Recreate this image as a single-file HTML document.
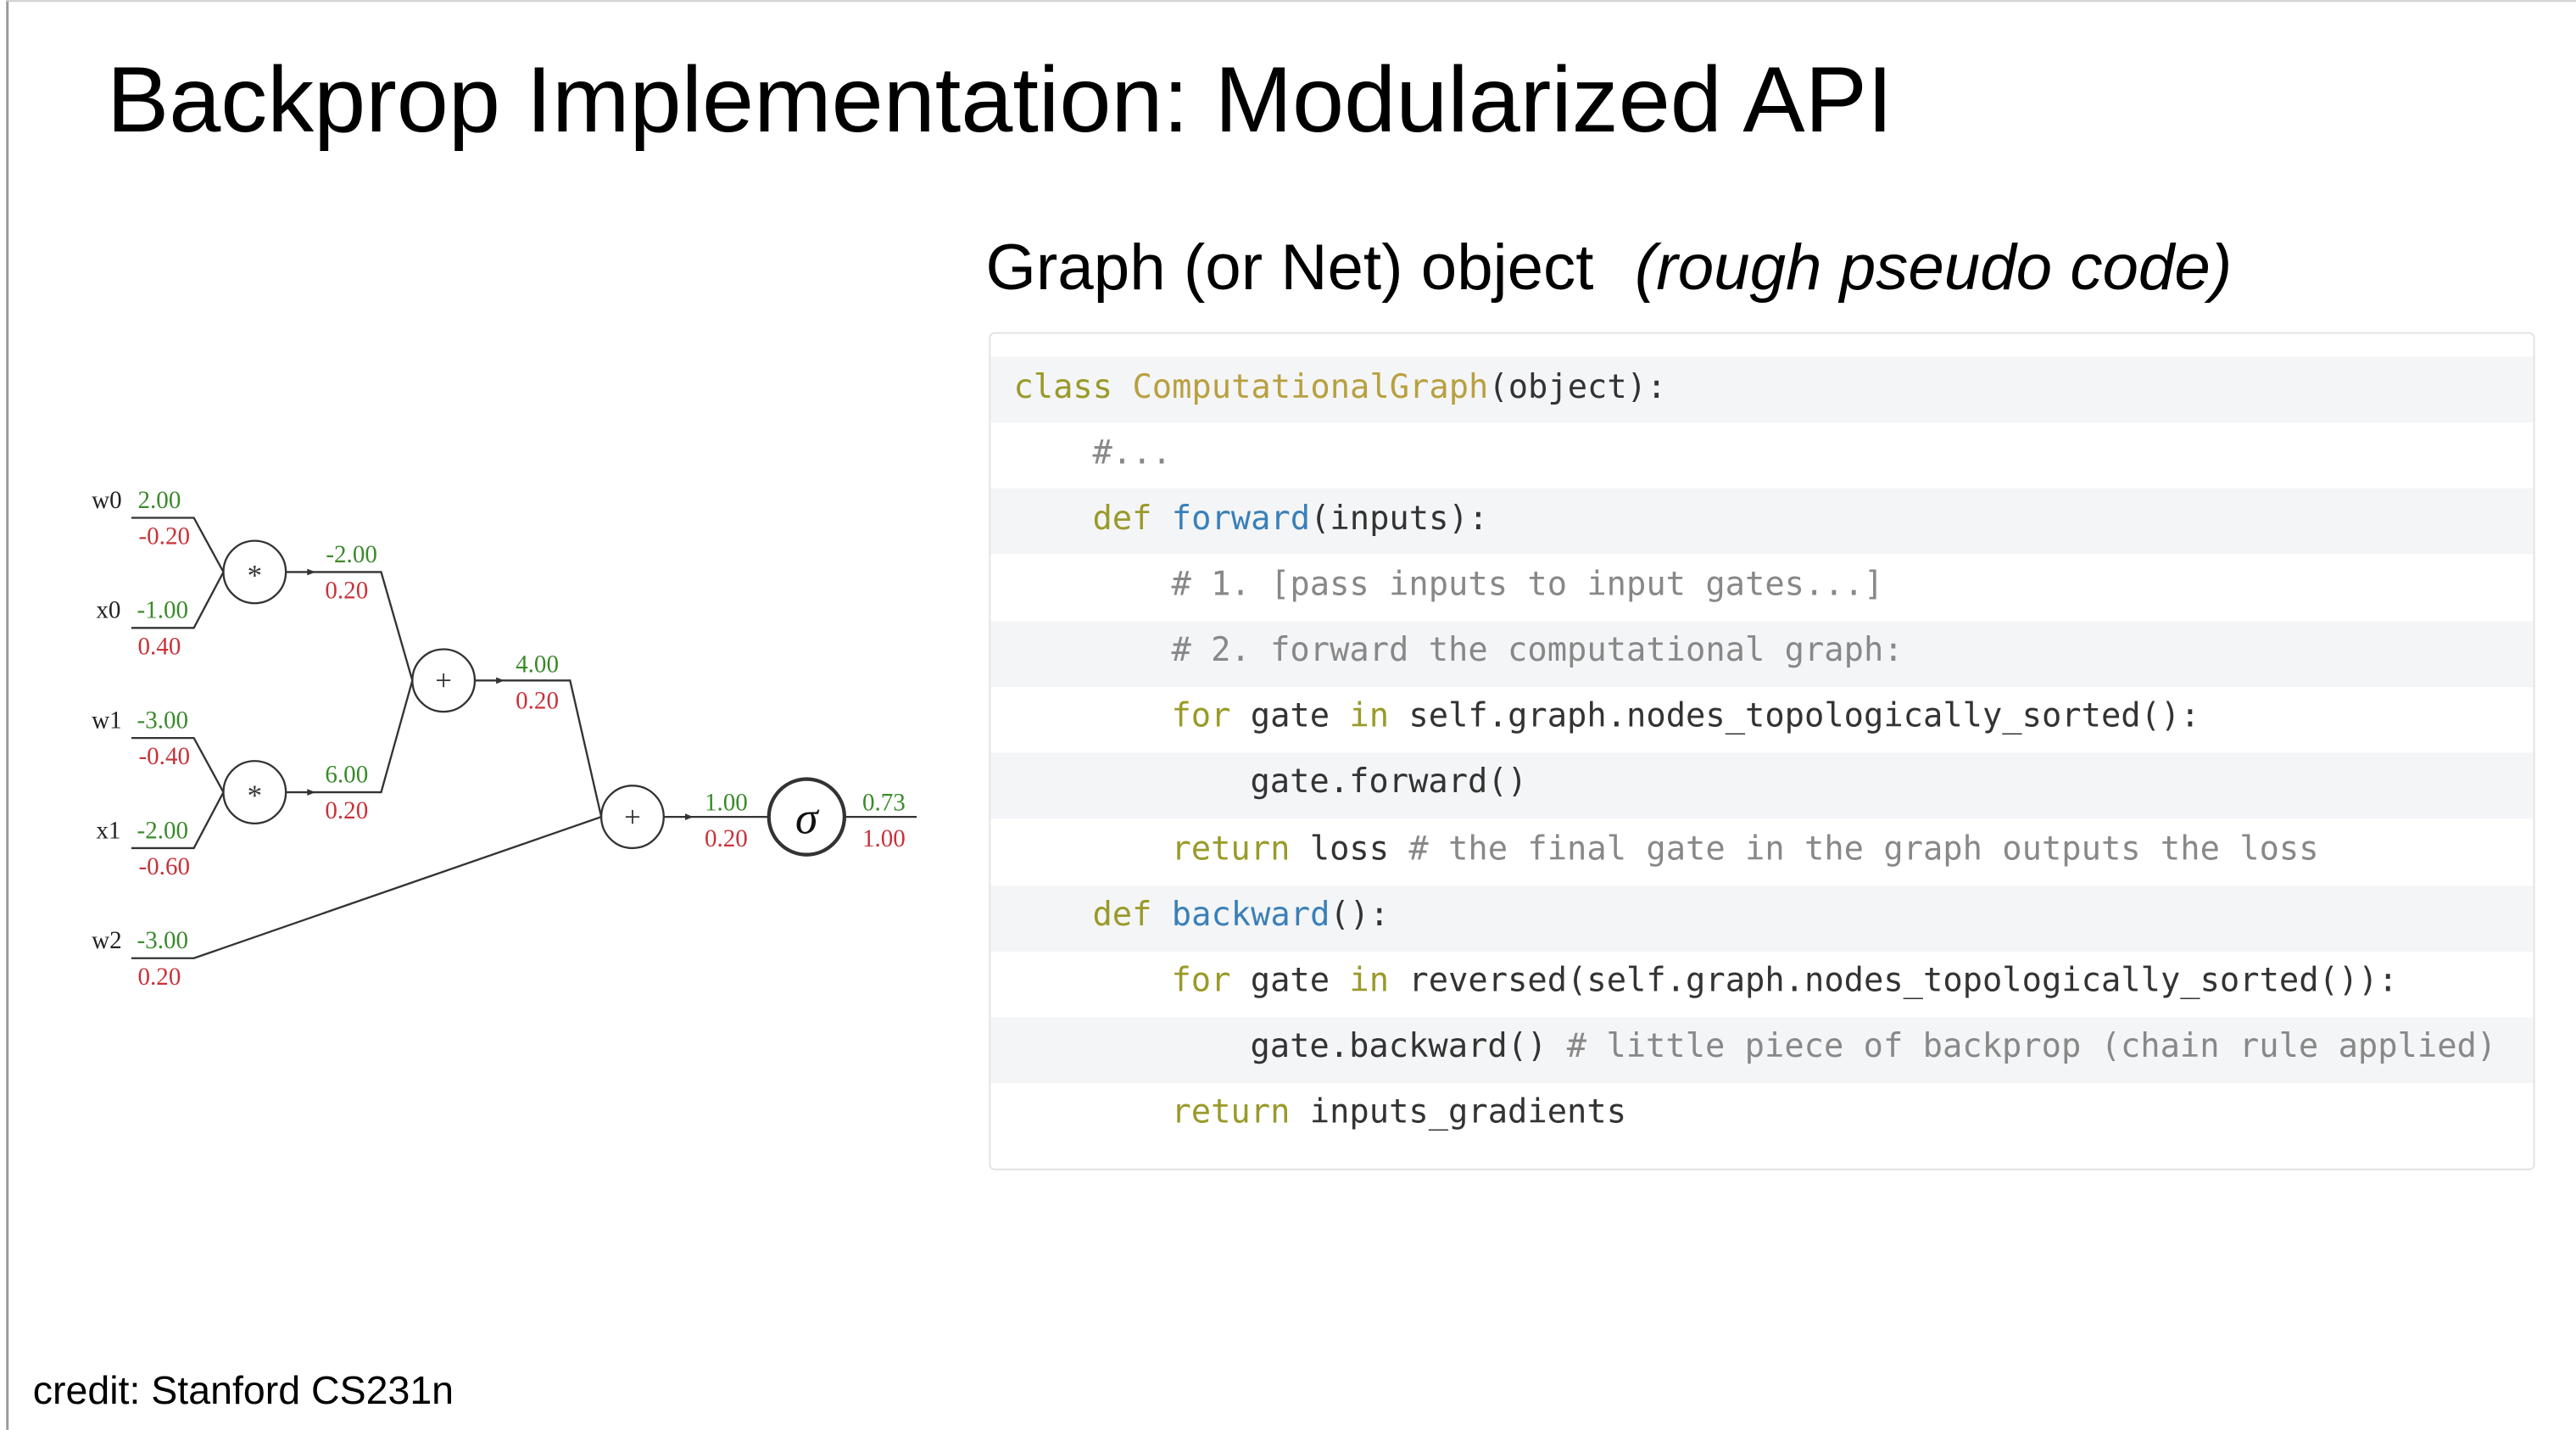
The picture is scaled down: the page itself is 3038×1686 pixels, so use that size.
<!DOCTYPE html>
<html><head><meta charset="utf-8"><style>
html,body{margin:0;padding:0;background:#fff;}
svg{display:block;}
</style></head><body>
<svg width="3038" height="1686" viewBox="0 0 1568 870" xmlns="http://www.w3.org/2000/svg">
<rect width="1568" height="870" fill="#fff"/>
<line x1="4.5" y1="0" x2="4.5" y2="870" stroke="#9a9a9a" stroke-width="1.5"/>
<line x1="4" y1="0.5" x2="1568" y2="0.5" stroke="#ccc" stroke-width="1"/>
<text x="65" y="80" font-family="Liberation Sans, sans-serif" font-size="56.7" fill="#000">Backprop Implementation: Modularized API</text>
<text x="600" y="176" font-family="Liberation Sans, sans-serif" font-size="39.4" fill="#000">Graph (or Net) object<tspan dx="25" font-style="italic">(rough pseudo code)</tspan></text>
<text x="20" y="854" font-family="Liberation Sans, sans-serif" font-size="24" fill="#000">credit: Stanford CS231n</text>

<!-- code box -->
<rect x="602.5" y="202.5" width="940" height="509" rx="3" fill="#fff" stroke="#e2e2e2"/>
<g fill="#f4f5f7">
<rect x="603" y="217" width="939" height="40"/>
<rect x="603" y="297" width="939" height="40"/>
<rect x="603" y="378" width="939" height="40"/>
<rect x="603" y="458" width="939" height="40"/>
<rect x="603" y="539" width="939" height="40"/>
<rect x="603" y="619" width="939" height="40"/>
</g>
<g font-family="DejaVu Sans Mono, Liberation Mono, monospace" font-size="20" fill="#333" xml:space="preserve">
<text x="617" y="242"><tspan fill="#9a9a2a">class</tspan> <tspan fill="#b8a040">ComputationalGraph</tspan>(object):</text>
<text x="665" y="282" fill="#888">#...</text>
<text x="665" y="322"><tspan fill="#9a9a2a">def</tspan> <tspan fill="#3a80b8">forward</tspan>(inputs):</text>
<text x="713" y="362" fill="#888"># 1. [pass inputs to input gates...]</text>
<text x="713" y="402" fill="#888"># 2. forward the computational graph:</text>
<text x="713" y="442"><tspan fill="#9a9a2a">for</tspan> gate <tspan fill="#9a9a2a">in</tspan> self.graph.nodes_topologically_sorted():</text>
<text x="761" y="482">gate.forward()</text>
<text x="713" y="523"><tspan fill="#9a9a2a">return</tspan> loss <tspan fill="#888"># the final gate in the graph outputs the loss</tspan></text>
<text x="665" y="563"><tspan fill="#9a9a2a">def</tspan> <tspan fill="#3a80b8">backward</tspan>():</text>
<text x="713" y="603"><tspan fill="#9a9a2a">for</tspan> gate <tspan fill="#9a9a2a">in</tspan> reversed(self.graph.nodes_topologically_sorted()):</text>
<text x="761" y="643">gate.backward() <tspan fill="#888"># little piece of backprop (chain rule applied)</tspan></text>
<text x="713" y="683"><tspan fill="#9a9a2a">return</tspan> inputs_gradients</text>
</g>

<!-- graph -->
<g stroke="#333" stroke-width="1.2" fill="none">
<polyline points="80,315 118,315 136,348"/>
<polyline points="80,382 118,382 136,348"/>
<polyline points="80,449 118,449 136,482"/>
<polyline points="80,516 118,516 136,482"/>
<polyline points="80,583 118,583 366,497"/>
<polyline points="174,348 232,348 251,414"/>
<polyline points="174,482 232,482 251,414"/>
<polyline points="289,414 347,414 366,497"/>
<line x1="404" y1="497" x2="468" y2="497"/>
<line x1="514" y1="497" x2="558" y2="497"/>
<circle cx="155" cy="348" r="19"/>
<circle cx="155" cy="482" r="19"/>
<circle cx="270" cy="414" r="19"/>
<circle cx="385" cy="497" r="19"/>
<circle cx="491" cy="497" r="23" stroke-width="2.2"/>
</g>
<g fill="#333">
<path d="M187,346 L192,348 L187,350Z"/>
<path d="M187,480 L192,482 L187,484Z"/>
<path d="M302,412 L307,414 L302,416Z"/>
<path d="M417,495 L422,497 L417,499Z"/>
</g>
<g font-family="Liberation Serif, serif" font-size="15" text-anchor="middle">
<text x="155" y="356" fill="#333" font-size="18">*</text>
<text x="155" y="490" fill="#333" font-size="18">*</text>
<text x="270" y="420" fill="#333" font-size="18">+</text>
<text x="385" y="503" fill="#333" font-size="18">+</text>
<text x="491" y="507" fill="#111" font-size="28" font-style="italic">σ</text>
<g fill="#222"><text x="65" y="309">w0</text><text x="66" y="376">x0</text><text x="65" y="443">w1</text><text x="66" y="510">x1</text><text x="65" y="577">w2</text></g>
<g fill="#3a8a2a">
<text x="97" y="309">2.00</text><text x="99" y="376">-1.00</text><text x="99" y="443">-3.00</text><text x="99" y="510">-2.00</text><text x="99" y="577">-3.00</text>
<text x="214" y="342">-2.00</text><text x="211" y="476">6.00</text><text x="327" y="409">4.00</text><text x="442" y="493">1.00</text><text x="538" y="493">0.73</text>
</g>
<g fill="#c8323a">
<text x="100" y="331">-0.20</text><text x="97" y="398">0.40</text><text x="100" y="465">-0.40</text><text x="100" y="532">-0.60</text><text x="97" y="599">0.20</text>
<text x="211" y="364">0.20</text><text x="211" y="498">0.20</text><text x="327" y="431">0.20</text><text x="442" y="515">0.20</text><text x="538" y="515">1.00</text>
</g>
</g>
</svg>
</body></html>
